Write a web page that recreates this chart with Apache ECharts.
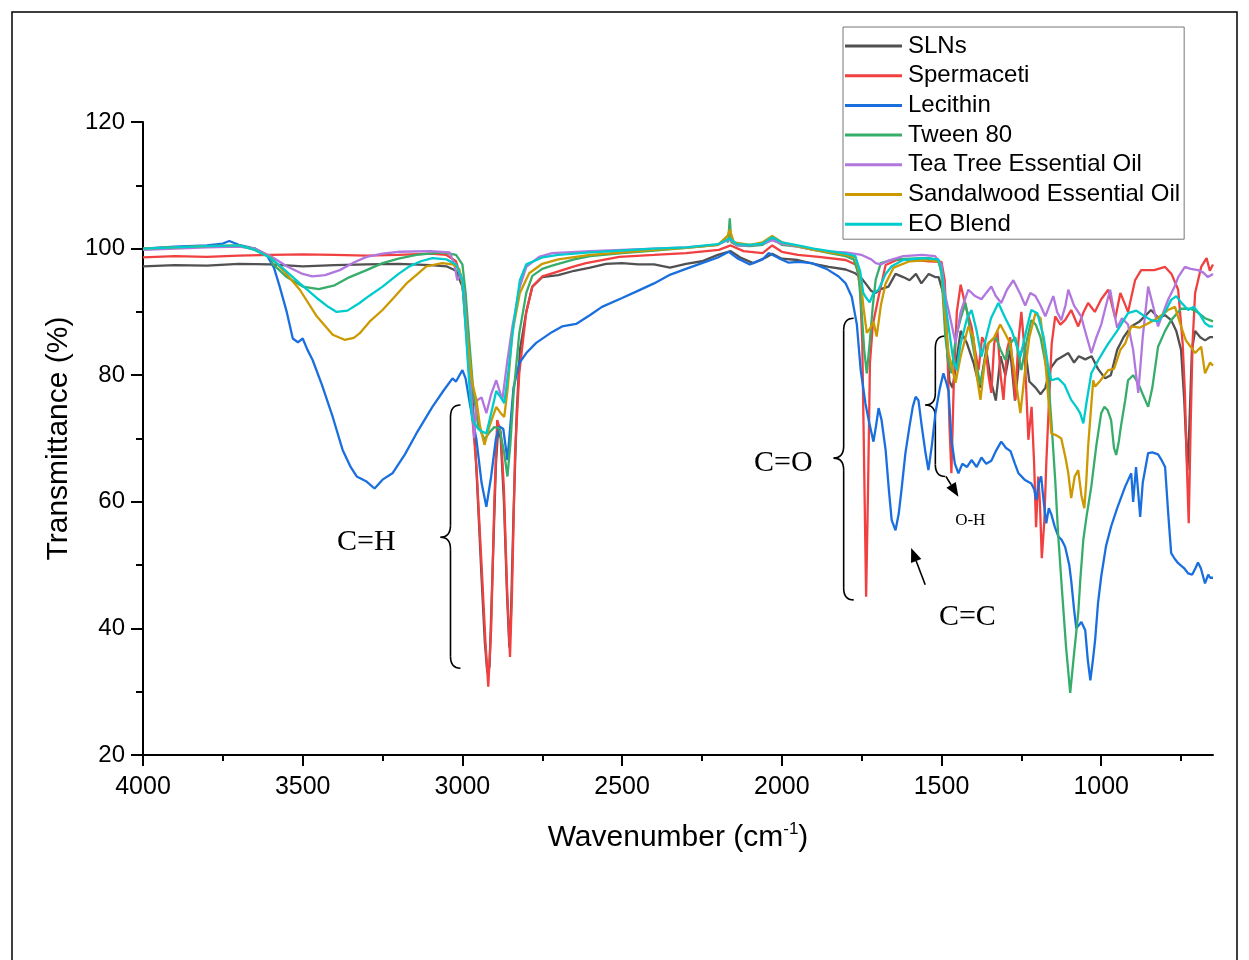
<!DOCTYPE html>
<html lang="en">
<head>
<meta charset="UTF-8" />
<title>FTIR spectra</title>
<script src="https://cdn.jsdelivr.net/npm/echarts@6.0.0/dist/echarts.min.js"></script>
<style>
  html, body { margin: 0; padding: 0; background: #fff; }
  #main { width: 1249px; height: 960px; }
</style>
</head>
<body>
<div id="main"></div>
<script>
// axis ticks
var wnTicks = [4000, 3500, 3000, 2500, 2000, 1500, 1000];
var wnMinorTicks = [3750, 3250, 2750, 2250, 1750, 1250, 750];

var seriesNames = ['SLNs', 'Spermaceti', 'Lecithin', 'Tween 80', 'Tea Tree Essential Oil', 'Sandalwood Essential Oil', 'EO Blend'];
var seriesColors = ['#515151', '#F14040', '#1A6FDF', '#37AD6B', '#B177DE', '#CC9900', '#00CBCC'];

// [wavenumber, transmittance]
var slnsData = [[4000,97.2],[3900,97.4],[3800,97.3],[3700,97.6],[3600,97.5],[3500,97.2],[3400,97.4],[3300,97.5],[3200,97.6],[3100,97.4],[3050,97.2],[3020,96.5],[3000,94],[2985,88],[2970,78],[2955,64],[2940,48],[2930,38],[2922,33],[2915,34],[2905,50],[2895,66],[2888,71.5],[2880,70],[2870,60],[2860,45],[2853,37],[2848,42],[2840,58],[2830,74],[2820,84],[2800,90],[2781,94],[2750,95.5],[2700,95.8],[2650,96.5],[2600,97],[2550,97.6],[2500,97.7],[2450,97.5],[2400,97.5],[2350,97.0],[2300,97.6],[2250,98.0],[2200,99.0],[2160,99.6],[2130,98.6],[2090,97.7],[2050,98.6],[2030,99.2],[2000,98.4],[1950,98.2],[1900,97.6],[1853,97.1],[1800,96.7],[1770,96.1],[1750,95.3],[1738,94.5],[1720,93.3],[1706,93.0],[1690,93.6],[1666,94.0],[1644,96.0],[1620,95.5],[1600,95.0],[1580,96.0],[1563,94.5],[1540,96.0],[1520,95.5],[1509,95.5],[1495,93],[1485,86],[1475,79],[1465,78],[1440,87],[1420,85],[1400,82],[1380,78],[1360,84],[1345,79],[1330,76],[1315,83],[1300,80],[1285,84],[1270,76],[1255,83],[1240,85],[1225,79],[1205,78],[1190,77],[1175,78],[1160,81],[1140,82.4],[1120,83],[1103,83.5],[1085,82],[1070,83],[1050,82.5],[1030,83],[1010,81],[988,79.5],[970,80],[950,84],[930,86],[906,87.7],[880,88.5],[860,89.5],[844,90.3],[820,89],[800,89.5],[781,88.7],[765,87],[750,84],[740,76],[730,65],[724,72],[716,84],[706,87],[690,86],[675,85.5],[660,86],[650,86]];

var spermacetiData = [[4000,98.6],[3900,98.8],[3800,98.7],[3700,98.9],[3600,99.0],[3500,99.1],[3400,99.0],[3300,98.9],[3200,99.0],[3100,99.2],[3050,99.0],[3020,98.0],[3000,94.5],[2988,86.6],[2970,74],[2956,65.5],[2940,50],[2928,38],[2919,30.8],[2910,40],[2900,60],[2891,72.9],[2880,71],[2870,62],[2860,46],[2851,35.5],[2845,45],[2835,68],[2822,80.3],[2800,90],[2781,94],[2750,95.6],[2719,96.1],[2650,97.2],[2613,97.7],[2509,98.7],[2400,99.0],[2300,99.3],[2197,99.8],[2160,100.5],[2120,99.6],[2060,99.3],[2030,100.5],[2000,99.5],[1950,99.0],[1884,98.7],[1800,98.2],[1766,97.4],[1755,94],[1748,85],[1742,65],[1736,45],[1730,62],[1724,82],[1715,88],[1697,92.4],[1675,97.4],[1640,98.2],[1600,98.3],[1540,98.0],[1500,97.9],[1490,95],[1482,85],[1475,72],[1469,64.5],[1462,78],[1452,90],[1440,94.3],[1425,91],[1406,87.7],[1395,84],[1384,80.8],[1373,86],[1363,85],[1353,80],[1344,77.2],[1335,85],[1325,87],[1315,80],[1306,76.1],[1295,84],[1285,86],[1278,82],[1269,76.1],[1260,85],[1250,90],[1240,84],[1228,69.8],[1218,75],[1210,66],[1204,56],[1197,64],[1192,60],[1186,51.1],[1178,57],[1172,66],[1166,73],[1155,85],[1144,89.3],[1128,88],[1113,88.7],[1094,90.3],[1072,87.7],[1055,90],[1041,91.4],[1020,90],[1000,92],[978,93.5],[956,89],[940,93],[916,90],[894,95],[875,96.6],[834,96.6],[800,97.1],[780,96],[759,93.5],[745,85],[738,77.2],[732,66],[726,56.6],[720,72],[714,85],[706,93],[687,97.1],[670,98.5],[660,96.5],[650,97.5]];

var lecithinData = [[4000,100],[3900,100.3],[3800,100.5],[3750,100.8],[3730,101.2],[3700,100.6],[3650,100.0],[3613,99.0],[3590,97.0],[3572,94.0],[3550,90.0],[3531,85.8],[3515,85.2],[3500,85.8],[3485,84.0],[3469,82.4],[3440,78.5],[3406,73.4],[3375,68.2],[3350,65.5],[3331,64.0],[3300,63.2],[3275,62.1],[3250,63.5],[3219,64.5],[3180,67.5],[3144,70.8],[3094,75.0],[3060,77.5],[3031,79.5],[3020,79.0],[3000,80.8],[2990,79.5],[2975,75],[2956,69.8],[2940,63],[2925,59.2],[2910,64],[2895,70],[2884,71.9],[2872,71.5],[2859,66.6],[2850,72],[2840,78],[2822,81.9],[2800,83.5],[2769,85.1],[2720,86.8],[2688,87.7],[2644,88.1],[2600,89.5],[2563,90.8],[2500,92.2],[2456,93.2],[2400,94.5],[2353,95.8],[2300,96.8],[2250,97.7],[2200,98.6],[2166,99.5],[2140,98.5],[2100,97.5],[2060,98.3],[2041,99.3],[2010,98.5],[1980,97.8],[1947,97.9],[1906,97.7],[1860,96.8],[1822,95.6],[1800,94.5],[1781,92.4],[1765,88],[1753,80.8],[1738,75.5],[1728,72.9],[1713,69.5],[1705,72],[1697,74.8],[1688,73],[1675,68.2],[1665,62],[1656,57.1],[1644,55.5],[1634,58.1],[1625,62],[1613,67.7],[1600,72],[1590,75],[1581,76.6],[1572,76],[1562,72],[1550,67.7],[1541,65.0],[1530,69],[1519,74.0],[1505,78],[1494,80.3],[1486,79],[1478,77.5],[1469,69.8],[1458,66],[1447,64.5],[1435,66],[1420,65.5],[1406,66.6],[1390,65.5],[1375,67],[1360,66],[1344,66.5],[1330,68],[1313,69.5],[1298,68.5],[1284,68.0],[1270,66],[1259,64.5],[1240,63.5],[1219,62.9],[1210,62],[1203,60.3],[1195,63],[1188,64],[1180,60],[1172,56.6],[1164,59],[1156,58],[1145,56],[1134,54.5],[1124,54],[1113,52.9],[1100,50],[1094,47.6],[1085,43],[1078,40],[1072,39.7],[1062,41],[1050,39.7],[1042,35],[1034,31.8],[1026,35],[1019,38.2],[1010,44],[1000,48.2],[985,53],[969,56.1],[950,59],[925,62.4],[906,64.5],[900,60],[891,65.5],[885,62],[878,57.6],[870,63],[853,67.7],[840,67.8],[822,67.5],[810,66.5],[800,65.5],[790,58],[781,51.9],[770,51],[759,50.3],[740,49.5],[728,48.7],[715,48.5],[705,49.5],[697,50.4],[688,49.5],[675,47.1],[665,48.5],[659,48.0],[650,48.0]];

var tweenData = [[4000,100],[3900,100.2],[3800,100.3],[3700,100.4],[3650,100.0],[3600,98.5],[3594,97.6],[3550,95.5],[3500,94.0],[3450,93.6],[3400,94.2],[3353,95.5],[3300,96.6],[3250,97.7],[3200,98.4],[3144,99.0],[3063,99.4],[3020,99.0],[3000,97.5],[2990,93],[2978,85],[2965,77],[2950,72],[2931,69.8],[2915,71],[2900,71.8],[2884,71.6],[2870,68],[2859,64.0],[2850,69],[2840,77],[2822,86.6],[2800,93],[2781,95.7],[2750,96.8],[2719,97.3],[2650,98.3],[2600,98.8],[2500,99.3],[2400,99.7],[2300,100.1],[2200,100.6],[2175,101.5],[2168,101],[2163,104.8],[2158,101],[2140,100.5],[2100,100.4],[2060,100.6],[2030,101.5],[2000,100.6],[1950,100.3],[1900,99.8],[1850,99.3],[1800,98.8],[1775,98.3],[1760,96],[1750,90],[1742,84],[1734,80.3],[1725,85],[1715,91],[1706,95.1],[1690,97.7],[1650,98.3],[1600,98.4],[1540,98.5],[1510,98.2],[1500,96],[1488,86.1],[1478,82],[1469,80.3],[1455,86],[1438,89.3],[1425,91.4],[1410,87],[1394,82.4],[1378,78.5],[1365,82],[1353,85.1],[1330,86],[1315,84],[1300,82.4],[1285,85],[1269,86],[1258,83],[1250,80.8],[1235,85],[1219,88.7],[1205,88],[1190,86],[1175,82],[1166,79.8],[1155,72],[1144,63.4],[1135,55],[1125,47.6],[1110,37],[1097,29.8],[1085,36],[1072,42.4],[1065,48],[1056,54.0],[1045,58],[1031,62.4],[1015,69],[1000,74.0],[990,75],[980,74.5],[969,72.9],[960,68.5],[953,67.4],[945,69.5],[938,72],[925,76],[916,79.2],[900,80],[884,78.7],[870,77],[853,75.0],[840,78],[822,84.5],[800,87],[781,88.7],[750,90.5],[720,90.5],[700,90],[675,89],[650,88.5]];

var teaTreeData = [[4000,99.8],[3900,100.0],[3800,100.2],[3700,100.3],[3650,100.0],[3600,98.8],[3550,97.2],[3500,96.0],[3470,95.6],[3430,95.8],[3384,96.6],[3340,97.8],[3300,98.7],[3250,99.2],[3195,99.5],[3100,99.6],[3040,99.4],[3025,97.5],[3016,95.0],[3005,96],[2995,93],[2980,83],[2963,70.1],[2955,76],[2940,76.5],[2925,74.0],[2910,77],[2894,79.2],[2875,76.1],[2860,82],[2844,87.5],[2820,94],[2800,97.1],[2760,98.7],[2719,99.3],[2600,99.6],[2500,99.8],[2400,100.0],[2300,100.2],[2200,100.6],[2163,101.5],[2140,100.5],[2100,100.5],[2060,100.8],[2030,101.3],[2000,100.8],[1950,100.3],[1900,99.8],[1850,99.5],[1800,99.4],[1750,99.0],[1720,98.3],[1706,97.7],[1690,97.5],[1666,98.1],[1620,98.8],[1560,99.0],[1520,98.8],[1500,97.5],[1490,93],[1478,90.3],[1456,85.1],[1440,90],[1416,93.5],[1395,92.5],[1375,92],[1360,93],[1344,94.0],[1330,92.5],[1313,91.4],[1295,93.5],[1275,95.0],[1255,93],[1238,91],[1222,93],[1206,92.5],[1190,91],[1175,89.3],[1162,91],[1150,92.5],[1138,90],[1125,88.7],[1112,91],[1103,93.5],[1085,91],[1063,89.3],[1045,86],[1031,83.5],[1015,86],[1000,88],[985,91],[972,93.5],[960,90],[950,87.5],[935,89],[916,88],[900,84],[884,77.2],[870,86],[853,94.0],[838,91],[822,87.7],[805,90],[790,92],[770,94],[759,95.5],[738,97.1],[720,96.8],[697,96.6],[680,96.2],[666,95.5],[650,96.0]];

var sandalwoodData = [[4000,100],[3900,100.2],[3800,100.4],[3700,100.5],[3650,99.8],[3600,98.6],[3560,96.5],[3509,93.5],[3456,89.3],[3406,86.4],[3369,85.6],[3340,85.9],[3322,86.6],[3290,88.5],[3250,90.3],[3210,92.5],[3175,94.5],[3140,96.0],[3113,97.2],[3063,97.7],[3030,97.5],[3010,96.8],[3000,94.5],[2985,86],[2970,79],[2956,76],[2945,72],[2931,69.0],[2915,72],[2894,75.0],[2880,74],[2869,73.4],[2858,78],[2844,86.6],[2820,93],[2791,96.1],[2750,97.6],[2700,98.3],[2600,99.0],[2500,99.4],[2400,99.8],[2300,100.1],[2200,100.6],[2170,102],[2163,103],[2150,101],[2100,100.6],[2060,101],[2030,102],[2000,101],[1950,100.4],[1900,99.8],[1850,99.4],[1800,99.0],[1770,98.6],[1755,96],[1745,91],[1734,86.7],[1722,87.5],[1713,88.5],[1703,86.1],[1690,91],[1675,94.5],[1650,97.0],[1600,98.0],[1540,98.2],[1510,98.0],[1500,96.5],[1490,90],[1478,83.5],[1456,78.8],[1440,83],[1416,87.7],[1400,86],[1390,80],[1378,76.1],[1365,82],[1353,85],[1335,86],[1316,88],[1300,86.5],[1285,85],[1270,80],[1253,74.0],[1240,80],[1225,86],[1206,89.8],[1190,89],[1178,84],[1165,76],[1156,70.8],[1140,70.5],[1125,70],[1112,67],[1103,64.5],[1094,60.6],[1083,64],[1072,65.0],[1062,61],[1053,59.0],[1047,63],[1041,68.7],[1033,74],[1025,79.2],[1019,78.2],[1005,79],[990,80],[978,80.8],[960,81],[940,84],[925,85],[906,87.7],[880,87.5],[860,88],[834,88.7],[810,89.5],[791,90.3],[769,90.8],[750,87.7],[735,85.5],[720,84.5],[706,83.5],[687,84.5],[675,80.3],[659,82],[650,81.5]];

var eoBlendData = [[4000,100],[3900,100.2],[3800,100.4],[3700,100.5],[3650,99.8],[3600,98.5],[3560,96.8],[3509,94.5],[3456,92.2],[3420,90.8],[3394,90.0],[3360,90.2],[3322,91.4],[3290,92.6],[3250,94.0],[3200,96.0],[3166,97.2],[3130,98.0],[3094,98.5],[3050,98.3],[3020,97.5],[3000,95],[2988,86],[2975,76],[2969,72.9],[2950,71.5],[2935,71],[2925,70.8],[2910,74],[2894,77.5],[2880,76.5],[2869,75.6],[2855,81],[2840,88],[2820,95],[2800,97.5],[2750,98.6],[2700,99.0],[2600,99.4],[2500,99.7],[2400,100.0],[2300,100.2],[2200,100.7],[2163,101.6],[2140,100.7],[2100,100.6],[2060,100.8],[2030,101.8],[2000,101.0],[1950,100.5],[1900,100.0],[1850,99.6],[1800,99.2],[1770,98.8],[1755,96.5],[1745,93],[1738,92.4],[1725,91.5],[1713,93.0],[1697,93.5],[1675,96],[1656,97.2],[1620,98.2],[1560,98.5],[1510,98.3],[1500,96.5],[1490,92],[1478,87.7],[1465,83],[1453,80.8],[1440,85],[1420,89],[1406,90.3],[1390,87],[1375,82.9],[1360,86],[1345,89],[1322,91.4],[1300,89],[1280,87],[1253,82.9],[1235,87],[1219,90.3],[1200,89.8],[1180,86],[1165,81],[1156,79.2],[1135,79.5],[1115,78.5],[1094,76.1],[1078,75.0],[1066,74],[1056,72.4],[1045,76],[1031,80.3],[1009,82.4],[990,84],[978,85],[950,87],[916,89.8],[890,90.2],[870,89.5],[844,88.7],[822,88.5],[800,90],[781,91.9],[765,92.5],[750,91.5],[728,90.3],[710,90.8],[690,89.5],[675,88.2],[660,87.7],[650,87.7]];

var allData = [slnsData, spermacetiData, lecithinData, tweenData, teaTreeData, sandalwoodData, eoBlendData];

// band annotations (data coords)
var bandLabels = [
  { text: 'C=H', wn: 3301, t: 53.6, size: 30 },
  { text: 'C=O', wn: 1995, t: 66.1, size: 30 },
  { text: 'C=C', wn: 1419, t: 41.8, size: 30 },
  { text: 'O-H', wn: 1410, t: 57.0, size: 17 }
];
var braces = [
  { wn: 3006, top: 75.3, bottom: 33.7, mid: 54.4 },
  { wn: 1775, top: 89.0, bottom: 44.5, mid: 66.9 },
  { wn: 1488, top: 86.2, bottom: 64.0, mid: 75.3 }
];
var arrows = [
  { from: [1551, 46.9], to: [1595, 52.7] },
  { from: [1486, 64.0], to: [1447, 60.8] }
];

var myChart = echarts.init(document.getElementById('main'));

var axisFont = 'Liberation Sans';
var series = seriesNames.map(function (name, i) {
  return {
    name: name,
    type: 'line',
    data: allData[i],
    showSymbol: false,
    symbol: 'none',
    color: seriesColors[i],
    lineStyle: { width: 2.3, color: seriesColors[i] }
  };
});

myChart.setOption({
  animation: false,
  backgroundColor: '#fff',
  grid: { left: 143, top: 122, right: 36, bottom: 205 },
  legend: {
    orient: 'vertical',
    left: 843,
    top: 27,
    data: seriesNames,
    icon: 'rect',
    itemWidth: 57,
    itemHeight: 3,
    itemGap: 3.7,
    padding: [6, 4, 2, 2],
    borderColor: '#777',
    borderWidth: 1,
    textStyle: { fontFamily: axisFont, fontSize: 24, color: '#000', lineHeight: 26, padding: [0, 0, 0, 1] }
  },
  xAxis: [{
    type: 'value',
    min: 650,
    max: 4000,
    inverse: true,
    position: 'bottom',
    name: '{a|Wavenumber (cm}{s|-1}{a|)}',
    nameLocation: 'middle',
    nameGap: 66,
    nameTextStyle: {
      rich: {
        a: { fontFamily: axisFont, fontSize: 30, color: '#000', lineHeight: 34 },
        s: { fontFamily: axisFont, fontSize: 17, color: '#000', lineHeight: 14, verticalAlign: 'top' }
      }
    },
    axisLine: { onZero: false, lineStyle: { color: '#000', width: 2 } },
    axisTick: { customValues: wnTicks, length: 11, lineStyle: { color: '#000', width: 2 } },
    axisLabel: {
      customValues: wnTicks,
      margin: 20,
      fontFamily: axisFont,
      fontSize: 25,
      color: '#000',
      formatter: function (v) { return String(v); }
    },
    splitLine: { show: false }
  }, {
    type: 'value',
    min: 650,
    max: 4000,
    inverse: true,
    position: 'bottom',
    axisLine: { show: false },
    axisTick: { customValues: wnMinorTicks, length: 6, lineStyle: { color: '#000', width: 2 } },
    axisLabel: { show: false },
    splitLine: { show: false }
  }],
  yAxis: {
    type: 'value',
    min: 20,
    max: 120,
    interval: 20,
    name: 'Transmittance (%)',
    nameLocation: 'middle',
    nameGap: 68,
    nameTextStyle: { fontFamily: axisFont, fontSize: 30, color: '#000' },
    axisLine: { show: true, lineStyle: { color: '#000', width: 2 } },
    axisTick: { show: true, length: 12, lineStyle: { color: '#000', width: 2 } },
    minorTick: { show: true, splitNumber: 2, length: 7, lineStyle: { color: '#000', width: 2 } },
    axisLabel: { margin: 18, fontFamily: axisFont, fontSize: 24, color: '#000' },
    splitLine: { show: false }
  },
  series: series
});

// annotations drawn on top, placed from data coordinates
function px(wn, t) {
  return myChart.convertToPixel({ xAxisIndex: 0, yAxisIndex: 0 }, [wn, t]);
}
var ink = { stroke: '#000', lineWidth: 1.6, fill: 'none' };
var graphics = [{
  type: 'rect',
  shape: { x: 12, y: 12, width: 1225, height: 990 },
  style: { stroke: '#000', lineWidth: 1.5, fill: 'none' },
  silent: true
}];

braces.forEach(function (b) {
  var p1 = px(b.wn, b.top), p2 = px(b.wn, b.bottom), pm = px(b.wn, b.mid);
  var xe = p1[0], xs = xe - 10, xc = xe - 20, r = 12;
  var yt = p1[1], yb = p2[1], ym = pm[1];
  graphics.push(
    { type: 'bezierCurve', shape: { x1: xe, y1: yt, cpx1: xs, cpy1: yt, x2: xs, y2: yt + r }, style: ink },
    { type: 'line', shape: { x1: xs, y1: yt + r, x2: xs, y2: ym - r }, style: ink },
    { type: 'bezierCurve', shape: { x1: xs, y1: ym - r, cpx1: xs, cpy1: ym, x2: xc, y2: ym }, style: ink },
    { type: 'bezierCurve', shape: { x1: xc, y1: ym, cpx1: xs, cpy1: ym, x2: xs, y2: ym + r }, style: ink },
    { type: 'line', shape: { x1: xs, y1: ym + r, x2: xs, y2: yb - r }, style: ink },
    { type: 'bezierCurve', shape: { x1: xs, y1: yb - r, cpx1: xs, cpy1: yb, x2: xe, y2: yb }, style: ink }
  );
});

arrows.forEach(function (a) {
  var p0 = px(a.from[0], a.from[1]), p1 = px(a.to[0], a.to[1]);
  var dx = p1[0] - p0[0], dy = p1[1] - p0[1];
  var len = Math.sqrt(dx * dx + dy * dy), ux = dx / len, uy = dy / len;
  var hl = 14, hw = 5.5;
  var bx = p1[0] - ux * hl, by = p1[1] - uy * hl;
  graphics.push(
    { type: 'line', shape: { x1: p0[0], y1: p0[1], x2: bx, y2: by }, style: ink },
    { type: 'polygon', shape: { points: [[p1[0], p1[1]], [bx - uy * hw, by + ux * hw], [bx + uy * hw, by - ux * hw]] }, style: { fill: '#000' } }
  );
});

bandLabels.forEach(function (l) {
  var p = px(l.wn, l.t);
  graphics.push({
    type: 'text',
    x: p[0],
    y: p[1],
    style: { text: l.text, fontFamily: 'Liberation Serif', fontSize: l.size, fill: '#000', align: 'center', verticalAlign: 'middle' }
  });
});

myChart.setOption({ graphic: graphics });
</script>
</body>
</html>
